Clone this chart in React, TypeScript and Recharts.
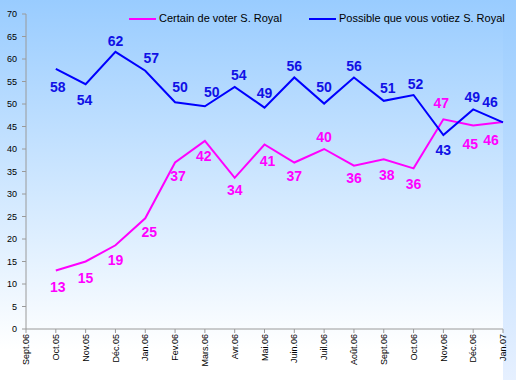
import React from 'react';
import { LineChart, Line, XAxis, YAxis } from 'recharts';

const months = ['Sept.06', 'Oct.05', 'Nov.05', 'Déc.05', 'Jan.06', 'Fev.06', 'Mars.06', 'Avr.06', 'Mai.06', 'Juin.06', 'Juil.06', 'Août.06', 'Sept.06', 'Oct.06', 'Nov.06', 'Déc.06', 'Jan.07'];
const certain: (number | null)[] = [null, 13, 15, 18.6, 24.6, 37, 41.8, 33.6, 41, 37, 40, 36.3, 37.7, 35.7, 46.6, 45.2, 46];
const possible: (number | null)[] = [null, 57.8, 54.4, 61.6, 57.4, 50.4, 49.5, 53.8, 49.2, 55.9, 50.1, 55.9, 50.7, 52, 43.1, 48.8, 45.9];
const yTicks = [0, 5, 10, 15, 20, 25, 30, 35, 40, 45, 50, 55, 60, 65, 70];
const seriesNames = ['Certain de voter S. Royal', 'Possible que vous votiez S. Royal'];

// label placement (layout only): [dx, dy] of label centre from the point
const certainLabelPos: ([number, number] | null)[] = [null, [2, 16], [0, 16], [0, 15], [4, 14], [3, 13], [-1, 15], [0, 12], [3, 16], [0, 13], [0, -12], [0, 12], [3, 16], [0, 16], [-2, -16], [-3, 18], [-12, 18]];
const possibleLabelPos: ([number, number] | null)[] = [null, [2, 18], [-1, 16], [0, -11], [6, -13], [5, -15], [7, -14], [4, -12], [0, -15], [0, -11], [0, -17], [0, -11], [4, -13], [2, -11], [0, 15], [-1, -12], [-13, -20]];

const data = months.map((m, i) => ({ month: m, certain: certain[i], possible: possible[i] }));

const MAGENTA = '#FF00FF';
const BLUE = '#0000FF';
const FONT = '"Liberation Sans", Arial, sans-serif';

const makeLabel = (pos: ([number, number] | null)[], color: string) => (props: any) => {
  const { x, y, value, index } = props;
  if (value == null || x == null || y == null) return null;
  const p = pos[index] || [0, -12];
  return (
    <text
      key={`l-${index}`}
      x={x + p[0]}
      y={y + p[1] + 5}
      textAnchor="middle"
      fill={color}
      fontFamily={FONT}
      fontSize={14}
      fontWeight="bold"
    >
      {Math.round(value)}
    </text>
  );
};

const XTick = (props: any) => {
  const { x, y, payload } = props;
  return (
    <text
      x={x}
      y={y}
      transform={`rotate(-90, ${x}, ${y})`}
      textAnchor="end"
      dy="0.35em"
      fill="#000"
      fontFamily={FONT}
      fontSize={9}
    >
      {payload.value}
    </text>
  );
};

export default function App() {
  return (
    <div
      style={{
        position: 'absolute',
        left: 0,
        top: 0,
        width: 516,
        height: 380,
        background: 'linear-gradient(to bottom, #99CCFF 0%, #E6F0FF 100%)',
        overflow: 'hidden',
      }}
    >
      <div
        style={{
          position: 'absolute',
          left: 0,
          top: 0,
          width: 503,
          height: 380,
          background: 'linear-gradient(to bottom, #99CCFF 0%, #FFFFFF 92%)',
        }}
      />
      <div style={{ position: 'absolute', left: 0, top: 0 }}>
        <LineChart width={516} height={380} data={data} margin={{ top: 14, right: 13, bottom: 0, left: 0 }}>
          <XAxis
            dataKey="month"
            interval={0}
            height={51}
            tickSize={4}
            tickMargin={1}
            stroke="#9A9A9A"
            tick={<XTick />}
          />
          <YAxis
            domain={[0, 70]}
            ticks={yTicks}
            width={26}
            tickSize={4}
            tickMargin={5}
            stroke="#9A9A9A"
            tick={{ fill: '#000', fontSize: 9, fontFamily: FONT }}
            interval={0}
          />
          <Line
            type="linear"
            dataKey="certain"
            name={seriesNames[0]}
            stroke={MAGENTA}
            strokeWidth={2}
            dot={false}
            isAnimationActive={false}
            label={makeLabel(certainLabelPos, MAGENTA)}
          />
          <Line
            type="linear"
            dataKey="possible"
            name={seriesNames[1]}
            stroke={BLUE}
            strokeWidth={2}
            dot={false}
            isAnimationActive={false}
            label={makeLabel(possibleLabelPos, '#1010E6')}
          />
        </LineChart>
      </div>
      <div style={{ position: 'absolute', left: 129, top: 12, fontFamily: FONT, fontSize: 11, color: '#000', lineHeight: '13px', whiteSpace: 'nowrap' }}>
        <span style={{ position: 'absolute', left: 0, top: 6, width: 27, height: 2, background: MAGENTA }} />
        <span style={{ position: 'absolute', left: 30, top: 0 }}>{seriesNames[0]}</span>
        <span style={{ position: 'absolute', left: 180, top: 6, width: 27, height: 2, background: BLUE }} />
        <span style={{ position: 'absolute', left: 210, top: 0 }}>{seriesNames[1]}</span>
      </div>
    </div>
  );
}
